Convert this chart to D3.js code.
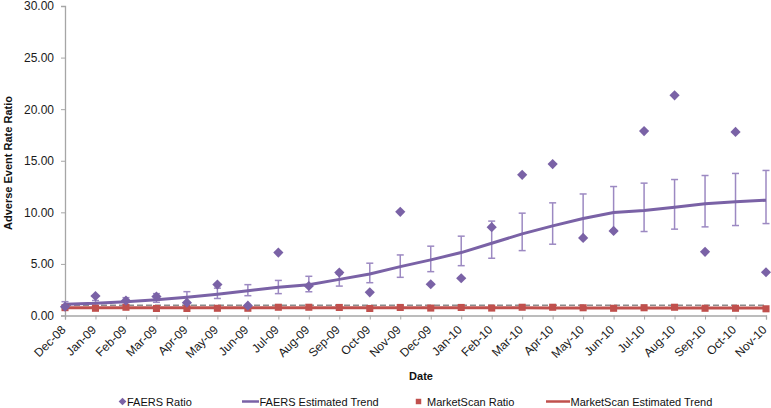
<!DOCTYPE html>
<html>
<head>
<meta charset="utf-8">
<script src="https://cdn.jsdelivr.net/npm/d3@7"></script>
<style>
  html, body { margin: 0; padding: 0; background: #fff; }
  svg { display: block; font-family: "Liberation Sans", Arial, sans-serif; }
</style>
</head>
<body>
<svg id="chart" width="771" height="408"></svg>
<script>
const months = ["Dec-08","Jan-09","Feb-09","Mar-09","Apr-09","May-09","Jun-09","Jul-09","Aug-09","Sep-09","Oct-09","Nov-09",
                "Dec-09","Jan-10","Feb-10","Mar-10","Apr-10","May-10","Jun-10","Jul-10","Aug-10","Sep-10","Oct-10","Nov-10"];
const faersRatio = [0.85, 1.89, 1.44, 1.83, 1.24, 3.0, 0.95, 6.1, 2.86, 4.16, 2.25, 10.05,
                    3.03, 3.61, 8.56, 13.64, 14.68, 7.52, 8.2, 17.88, 21.34, 6.17, 17.79, 4.19];
const faersTrend = [1.09, 1.18, 1.34, 1.53, 1.77, 2.06, 2.41, 2.74, 2.99, 3.5, 4.03, 4.74,
                    5.39, 6.1, 7.0, 7.91, 8.69, 9.4, 9.98, 10.17, 10.5, 10.83, 11.02, 11.18];
const faersUpper = [1.34, 1.45, 1.73, 2.12, 2.31, 2.65, 2.99, 3.4, 3.8, 4.0, 5.07, 5.87,
                    6.72, 7.69, 9.15, 9.92, 10.92, 11.78, 12.5, 12.83, 13.18, 13.57, 13.77, 14.06];
const faersLower = [0.85, 0.95, 1.02, 1.28, 1.25, 1.65, 1.92, 2.12, 2.3, 2.85, 3.18, 3.7,
                    4.25, 4.83, 5.55, 6.29, 6.91, 7.5, 8.3, 8.14, 8.37, 8.59, 8.72, 8.91];
const marketRatio = [0.76, 0.7, 0.8, 0.68, 0.68, 0.7, 0.7, 0.8, 0.8, 0.78, 0.68, 0.78,
                     0.72, 0.78, 0.72, 0.8, 0.8, 0.75, 0.7, 0.75, 0.8, 0.7, 0.7, 0.65];
const marketTrend = [0.76, 0.76, 0.76, 0.75, 0.75, 0.75, 0.75, 0.75, 0.75, 0.75, 0.74, 0.74,
                     0.74, 0.74, 0.74, 0.74, 0.73, 0.73, 0.73, 0.73, 0.72, 0.72, 0.72, 0.72];
const referenceLevel = 1.0;
const yTicks = [0, 5, 10, 15, 20, 25, 30];
const legendLabels = ["FAERS Ratio", "FAERS Estimated Trend", "MarketScan Ratio", "MarketScan Estimated Trend"];

const purple = "#7A62A6", purpleLight = "#9C89C2", red = "#C0504D";
const svg = d3.select("#chart");
const x = d3.scalePoint().domain(months).range([65, 766]);
const y = d3.scaleLinear().domain([0, 30]).range([315.5, 6]);
const axisColor = "#a6a6a6";

// Y axis
const yAxis = svg.append("g").attr("transform", "translate(65,0)")
  .call(d3.axisLeft(y).tickValues(yTicks).tickFormat(d3.format(".2f")).tickSizeOuter(0).tickSize(4).tickPadding(7));
yAxis.select(".domain").attr("stroke", axisColor).attr("stroke-width", 1.3);
yAxis.selectAll(".tick line").attr("stroke", axisColor);
yAxis.selectAll("text").attr("font-size", 12).attr("fill", "#1a1a1a").attr("font-family", "Liberation Sans, Arial, sans-serif");

// X axis
const xAxis = svg.append("g").attr("transform", "translate(0,315.5)")
  .call(d3.axisBottom(x).tickSizeOuter(0).tickSize(4));
xAxis.select(".domain").attr("stroke", axisColor).attr("stroke-width", 1.3);
xAxis.selectAll(".tick line").attr("stroke", axisColor);
xAxis.selectAll("text")
  .attr("font-size", 12).attr("fill", "#1a1a1a").attr("font-family", "Liberation Sans, Arial, sans-serif")
  .attr("text-anchor", "end")
  .attr("x", 0).attr("y", 0).attr("dy", "0.35em")
  .attr("transform", "translate(-2,12) rotate(-45)");

// Reference dashed line
svg.append("line")
  .attr("x1", x(months[0])).attr("x2", x(months[months.length - 1]))
  .attr("y1", y(referenceLevel)).attr("y2", y(referenceLevel))
  .attr("stroke", "#8c8c8c").attr("stroke-width", 1.5).attr("stroke-dasharray", "6,3");

// Error bars
const eb = svg.append("g").attr("stroke", purpleLight).attr("stroke-width", 1.5).attr("fill", "none");
months.forEach((m, i) => {
  const cx = x(m);
  eb.append("line").attr("x1", cx).attr("x2", cx).attr("y1", y(faersUpper[i])).attr("y2", y(faersLower[i]));
  eb.append("line").attr("x1", cx - 3.5).attr("x2", cx + 3.5).attr("y1", y(faersUpper[i])).attr("y2", y(faersUpper[i]));
  eb.append("line").attr("x1", cx - 3.5).attr("x2", cx + 3.5).attr("y1", y(faersLower[i])).attr("y2", y(faersLower[i]));
});

// FAERS trend line
svg.append("path")
  .attr("d", d3.line().x((d, i) => x(months[i])).y(d => y(d))(faersTrend))
  .attr("fill", "none").attr("stroke", purple).attr("stroke-width", 3);

// MarketScan trend line
svg.append("path")
  .attr("d", d3.line().x((d, i) => x(months[i])).y(d => y(d))(marketTrend))
  .attr("fill", "none").attr("stroke", red).attr("stroke-width", 3);

// MarketScan squares
const sq = d3.symbol().type(d3.symbolSquare).size(50);
svg.append("g").selectAll("path").data(marketRatio).join("path")
  .attr("d", sq)
  .attr("transform", (d, i) => `translate(${x(months[i])},${y(d)})`)
  .attr("fill", red);

// FAERS diamonds
const dm = d3.symbol().type(d3.symbolSquare).size(52);
svg.append("g").selectAll("path").data(faersRatio).join("path")
  .attr("d", dm)
  .attr("transform", (d, i) => `translate(${x(months[i])},${y(d)}) rotate(45)`)
  .attr("fill", purple);

// Axis titles
svg.append("text").attr("x", 421).attr("y", 380).attr("text-anchor", "middle")
  .attr("font-size", 11).attr("font-weight", "bold").attr("fill", "#111").text("Date");
svg.append("text").attr("transform", "translate(12,163) rotate(-90)").attr("text-anchor", "middle")
  .attr("font-size", 11).attr("font-weight", "bold").attr("fill", "#111").text("Adverse Event Rate Ratio");

// Legend
const ly = 401.5;
const lg = svg.append("g").attr("font-size", 11).attr("fill", "#111");
lg.append("path").attr("d", d3.symbol().type(d3.symbolSquare).size(30)).attr("transform", `translate(122.5,${ly}) rotate(45)`).attr("fill", purple);
lg.append("text").attr("x", 127).attr("y", ly + 4).text(legendLabels[0]);
lg.append("line").attr("x1", 242).attr("x2", 259).attr("y1", ly).attr("y2", ly).attr("stroke", purple).attr("stroke-width", 2.5);
lg.append("text").attr("x", 259.5).attr("y", ly + 4).text(legendLabels[1]);
lg.append("path").attr("d", d3.symbol().type(d3.symbolSquare).size(30)).attr("transform", `translate(418.5,${ly})`).attr("fill", red);
lg.append("text").attr("x", 427).attr("y", ly + 4).text(legendLabels[2]);
lg.append("line").attr("x1", 546).attr("x2", 570).attr("y1", ly).attr("y2", ly).attr("stroke", red).attr("stroke-width", 2.5);
lg.append("text").attr("x", 570.5).attr("y", ly + 4).text(legendLabels[3]);
</script>
</body>
</html>
